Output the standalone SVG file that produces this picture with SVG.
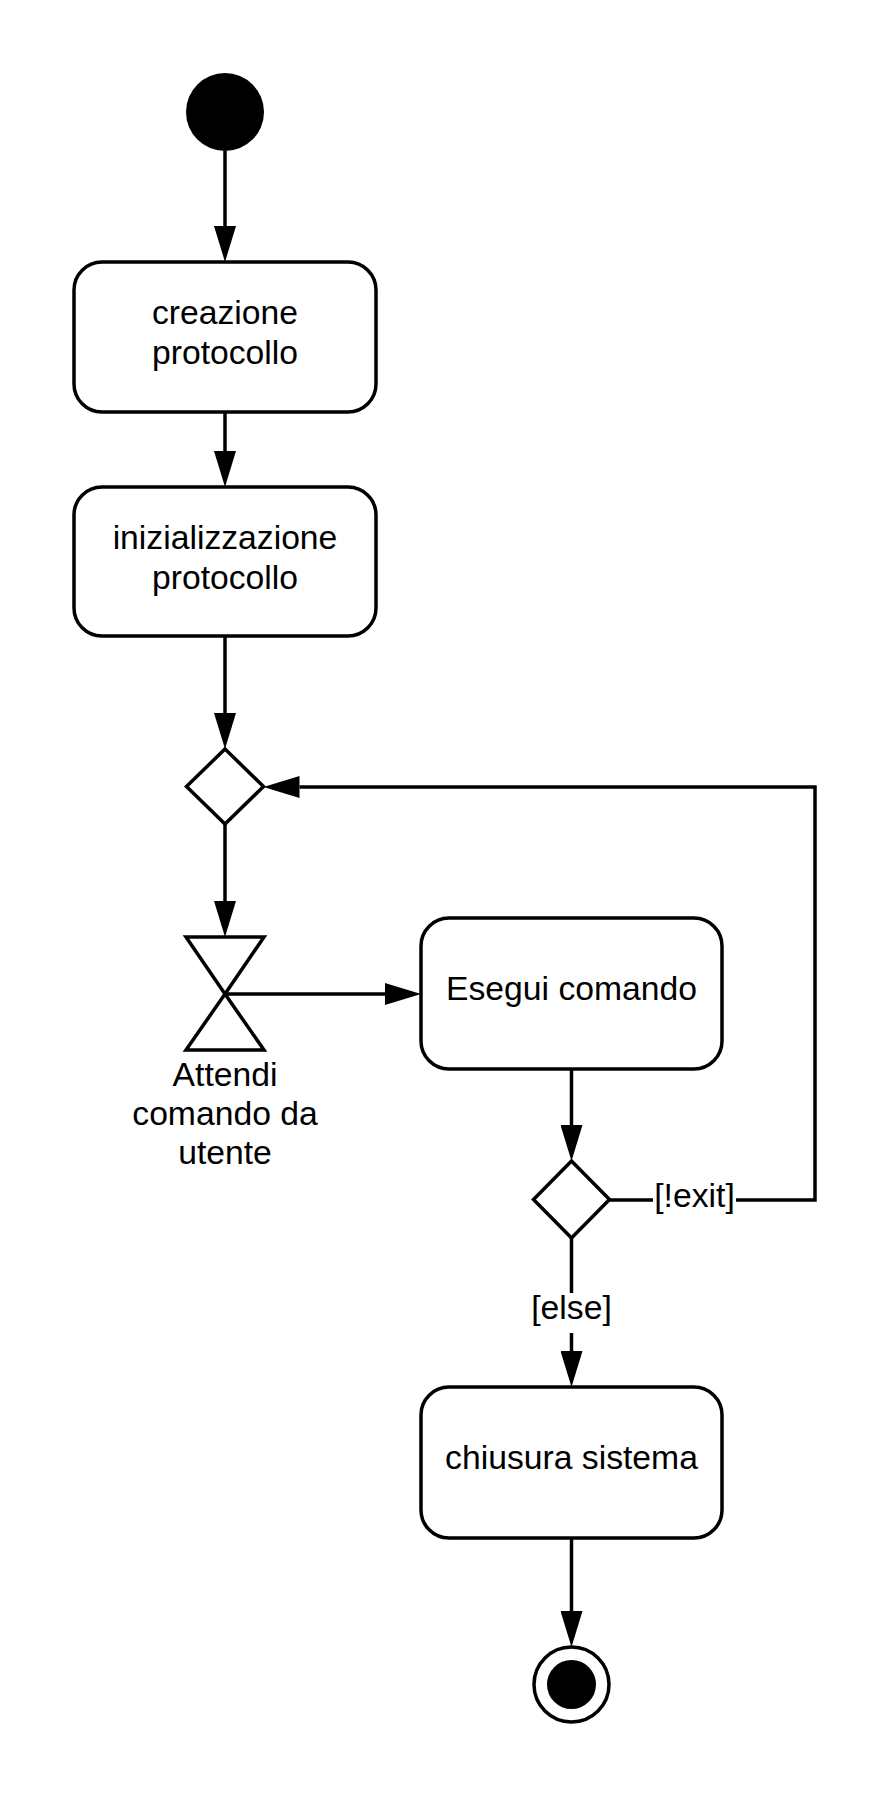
<svg xmlns="http://www.w3.org/2000/svg" width="893" height="1798" viewBox="0 0 893 1798">
  <style>
    .act { fill: #ffffff; stroke: #000000; stroke-width: 3.5; }
    .shape { fill: #ffffff; stroke: #000000; stroke-width: 3.5; stroke-linejoin: miter; }
    .solid { fill: #000000; stroke: none; }
    .conn { fill: none; stroke: #000000; stroke-width: 3.5; marker-end: url(#arrow); }
    .lbl { font-family: "Liberation Sans", Arial, sans-serif; font-size: 33.7px; fill: #000000; text-anchor: middle; }
  </style>
  <defs>
    <marker id="arrow" markerUnits="userSpaceOnUse" markerWidth="37" markerHeight="22" viewBox="0 0 37 22" refX="0" refY="11" orient="auto">
      <path d="M0,0 L36,11 L0,22 z" fill="#000000"/>
    </marker>
  </defs>
  <rect width="893" height="1798" fill="#ffffff"/>

  <g id="connectors">
    <path class="conn" d="M225,151 V226"/>
    <path class="conn" d="M225,412 V451"/>
    <path class="conn" d="M225,636 V713"/>
    <path class="conn" d="M225,824 V901"/>
    <path class="conn" d="M225,994 V994 H385"/>
    <path class="conn" d="M571.5,1069 V1125"/>
    <path class="conn" d="M609,1200 H653 M736,1200 H815 V787 H299.5"/>
    <text class="lbl" x="694.5" y="1207">[!exit]</text>
    <path class="conn" d="M571.5,1238 V1293 M571.5,1333 V1351"/>
    <text class="lbl" x="571.5" y="1319">[else]</text>
    <path class="conn" d="M571.5,1538 V1611"/>
  </g>

  <g id="start">
    <circle class="solid" cx="225" cy="112" r="39"/>
  </g>

  <g id="creazione">
    <rect class="act" x="74" y="262" width="302" height="150" rx="28" ry="28"/>
    <text class="lbl" x="225" y="324">creazione</text>
    <text class="lbl" x="225" y="364">protocollo</text>
  </g>

  <g id="inizializzazione">
    <rect class="act" x="74" y="487" width="302" height="149" rx="28" ry="28"/>
    <text class="lbl" x="225" y="549">inizializzazione</text>
    <text class="lbl" x="225" y="589">protocollo</text>
  </g>

  <g id="merge">
    <polygon class="shape" points="225,749 263.5,786.5 225,824 186.5,786.5"/>
  </g>

  <g id="attendi">
    <polygon class="shape" points="186,937 264,937 225,994 186,1050 264,1050 225,994"/>
    <text class="lbl" x="225" y="1086">Attendi</text>
    <text class="lbl" x="225" y="1125">comando da</text>
    <text class="lbl" x="225" y="1164">utente</text>
  </g>

  <g id="esegui">
    <rect class="act" x="421" y="918" width="301" height="151" rx="28" ry="28"/>
    <text class="lbl" x="571.5" y="1000">Esegui comando</text>
  </g>

  <g id="decision">
    <polygon class="shape" points="571.5,1161 609.5,1199.5 571.5,1238 533.5,1199.5"/>
  </g>

  <g id="chiusura">
    <rect class="act" x="421" y="1387" width="301" height="151" rx="28" ry="28"/>
    <text class="lbl" x="571.5" y="1469">chiusura sistema</text>
  </g>

  <g id="end">
    <circle cx="571.5" cy="1684.5" r="37.5" fill="#ffffff" stroke="#000000" stroke-width="3.5"/>
    <circle class="solid" cx="571.5" cy="1684.5" r="24.5"/>
  </g>
</svg>
